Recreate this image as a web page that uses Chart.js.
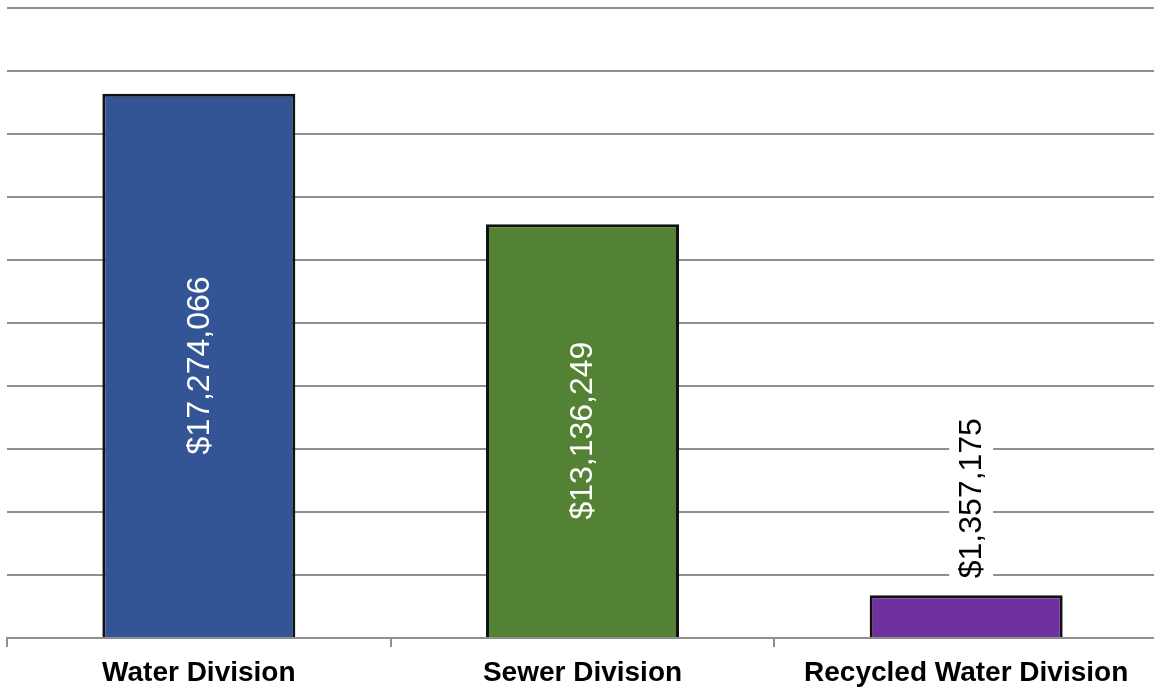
<!DOCTYPE html>
<html>
<head>
<meta charset="utf-8">
<script src="https://cdn.jsdelivr.net/npm/chart.js@4.4.1/dist/chart.umd.min.js"></script>
<style>
  html, body { margin: 0; padding: 0; background: #fff; overflow: hidden; }
  #wrap { position: relative; width: 1158px; height: 689px; }
</style>
</head>
<body>
<div id="wrap"><canvas id="chart"></canvas></div>
<script>
// Budget by division
const categories = ['Water Division', 'Sewer Division', 'Recycled Water Division'];
const amounts = [17274066, 13136249, 1357175];
const barColors = ['#335595', '#548235', '#7030A0'];
const axisMax = 20000000;
const axisStep = 2000000;

const gridColor = '#8f8f8f';

function money(v) {
  return '$' + v.toLocaleString('en-US');
}

// Rotated value labels: inside the bar when it fits, otherwise above it on a white box
const valueLabels = {
  id: 'valueLabels',
  afterDatasetsDraw(chart) {
    const ctx = chart.ctx;
    const meta = chart.getDatasetMeta(0);
    const data = chart.data.datasets[0].data;
    meta.data.forEach((bar, i) => {
      const text = money(data[i]);
      const barH = bar.base - bar.y;
      ctx.save();
      ctx.font = '32px "Liberation Sans", Arial, sans-serif';
      let w = ctx.measureText(text).width;
      ctx.textAlign = 'center';
      ctx.textBaseline = 'middle';
      if (w + 40 < barH) {
        ctx.translate(bar.x + 1, (bar.y + bar.base) / 2);
        ctx.rotate(-Math.PI / 2);
        ctx.fillStyle = '#ffffff';
        ctx.fillText(text, 0, 0);
      } else {
        ctx.font = '32px "Liberation Sans", Arial, sans-serif';
        w = ctx.measureText(text).width;
        const gap = 17;
        const cx = bar.x + 5;
        const cy = bar.y - gap - w / 2;
        ctx.translate(cx, cy);
        ctx.rotate(-Math.PI / 2);
        ctx.fillStyle = '#ffffff';
        ctx.fillRect(-w / 2 - 6, -22, w + 12, 44);
        ctx.fillStyle = '#000000';
        ctx.fillText(text, 0, 1);
      }
      ctx.restore();
    });
  }
};

new Chart(document.getElementById('chart'), {
  type: 'bar',
  data: {
    labels: categories,
    datasets: [{
      data: amounts,
      backgroundColor: barColors,
      borderColor: '#111111',
      borderWidth: 3,
      borderSkipped: 'bottom',
      categoryPercentage: 1.0,
      barPercentage: 0.503
    }]
  },
  options: {
    responsive: true,
    maintainAspectRatio: false,
    animation: false,
    layout: { padding: { left: 7, right: 0, top: 8, bottom: 0 } },
    plugins: {
      legend: { display: false },
      tooltip: { enabled: false }
    },
    scales: {
      x: {
        grid: {
          offset: true,
          drawOnChartArea: false,
          drawTicks: true,
          tickLength: 9,
          color: gridColor,
          lineWidth: 2
        },
        border: { display: true, color: gridColor, width: 2 },
        ticks: {
          color: '#000000',
          padding: 9,
          maxRotation: 0,
          autoSkip: false,
          font: { family: '"Liberation Sans", Arial, sans-serif', size: 28, weight: 'bold' }
        },
        afterFit(scale) { scale.height = 51; }
      },
      y: {
        min: 0,
        max: axisMax,
        ticks: { display: false, stepSize: axisStep },
        grid: { color: gridColor, lineWidth: 2, drawTicks: false },
        border: { display: false },
        afterFit(scale) { scale.width = 0; }
      }
    }
  },
  plugins: [valueLabels]
});
</script>
</body>
</html>
